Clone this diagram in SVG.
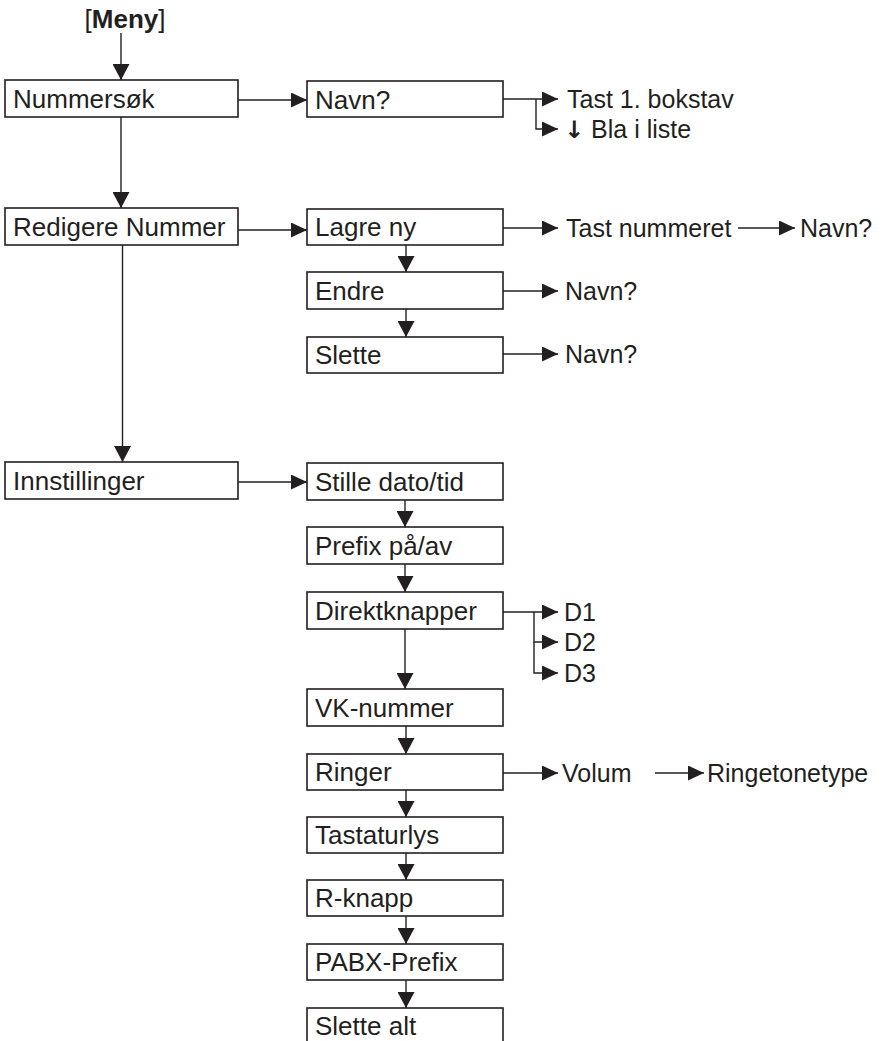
<svg xmlns="http://www.w3.org/2000/svg" width="882" height="1041" viewBox="0 0 882 1041">
<style>
.box{fill:#fff;stroke:#231f20;stroke-width:1.6}
.t{font-family:"Liberation Sans",Arial,sans-serif;font-size:26px;fill:#231f20}
.o{font-family:"Liberation Sans",Arial,sans-serif;font-size:25px;fill:#231f20}
.ar{font-family:"DejaVu Sans",sans-serif;font-weight:bold;font-size:24px}
.c{fill:none;stroke:#231f20;stroke-width:1.4}
.h{marker-end:url(#ah)}
.v{marker-end:url(#av)}
</style>
<defs>
<marker id="ah" markerUnits="userSpaceOnUse" markerWidth="16" markerHeight="15" refX="16" refY="7.5" orient="auto"><path d="M0,0 L16,7.5 L0,15 z" fill="#231f20"/></marker>
<marker id="av" markerUnits="userSpaceOnUse" markerWidth="16" markerHeight="17" refX="16" refY="8.5" orient="auto"><path d="M0,0 L16,8.5 L0,17 z" fill="#231f20"/></marker>
</defs>
<rect width="882" height="1041" fill="#fff"/>
<g id="connectors">
<path class="c v" d="M121,33 V80"/>
<path class="c v" d="M121,117 V208"/>
<path class="c v" d="M122.5,245 V462"/>
<path class="c h" d="M238,100 H307"/>
<path class="c h" d="M503,99 H558"/>
<path class="c h" d="M536,99 V129 H558"/>
<path class="c h" d="M238,230 H307"/>
<path class="c h" d="M503,228 H558"/>
<path class="c h" d="M738,228 H795"/>
<path class="c v" d="M406,245 V272"/>
<path class="c v" d="M406,309 V337"/>
<path class="c h" d="M503,291 H558"/>
<path class="c h" d="M503,354 H558"/>
<path class="c h" d="M238,482 H307"/>
<path class="c v" d="M405,500 V527"/>
<path class="c v" d="M405,564 V592"/>
<path class="c v" d="M405,629 V689"/>
<path class="c h" d="M503,612 H558"/>
<path class="c h" d="M534,612 V642 H558"/>
<path class="c h" d="M534,642 V673 H558"/>
<path class="c v" d="M406,726 V754"/>
<path class="c h" d="M503,773 H558"/>
<path class="c h" d="M655,773 H704"/>
<path class="c v" d="M406,790 V817"/>
<path class="c v" d="M406,853 V880"/>
<path class="c v" d="M406,916 V944"/>
<path class="c v" d="M406,980 V1008"/>
</g>
<g id="meny"><text class="t" x="125" y="28" text-anchor="middle">[<tspan font-weight="bold">Meny</tspan>]</text></g>
<g id="nummersok"><rect class="box" x="5" y="80" width="233" height="37"/><text class="t" x="13" y="108">Nummersøk</text></g>
<g id="redigere"><rect class="box" x="5" y="208" width="233" height="37"/><text class="t" x="13" y="236">Redigere Nummer</text></g>
<g id="innstillinger"><rect class="box" x="5" y="462" width="233" height="37"/><text class="t" x="13" y="490">Innstillinger</text></g>
<g id="navn1"><rect class="box" x="307" y="81" width="196" height="36"/><text class="t" x="315" y="109">Navn?</text></g>
<g id="tast1"><text class="o" x="567" y="108">Tast 1. bokstav</text></g>
<g id="bla"><text class="o" x="564" y="138"><tspan class="ar">↓</tspan> Bla i liste</text></g>
<g id="lagre"><rect class="box" x="307" y="209" width="196" height="36"/><text class="t" x="315" y="236">Lagre ny</text></g>
<g id="tastnr"><text class="o" x="566" y="237">Tast nummeret</text></g>
<g id="navn2"><text class="o" x="800" y="237">Navn?</text></g>
<g id="endre"><rect class="box" x="307" y="272" width="196" height="37"/><text class="t" x="315" y="300">Endre</text></g>
<g id="navn3"><text class="o" x="565" y="300">Navn?</text></g>
<g id="slette"><rect class="box" x="307" y="337" width="196" height="36"/><text class="t" x="315" y="364">Slette</text></g>
<g id="navn4"><text class="o" x="565" y="363">Navn?</text></g>
<g id="stille"><rect class="box" x="307" y="463" width="196" height="37"/><text class="t" x="315" y="491">Stille dato/tid</text></g>
<g id="prefix"><rect class="box" x="307" y="527" width="196" height="37"/><text class="t" x="315" y="555">Prefix på/av</text></g>
<g id="direkt"><rect class="box" x="307" y="592" width="196" height="37"/><text class="t" x="315" y="620">Direktknapper</text></g>
<g id="d1"><text class="o" x="564" y="621">D1</text></g>
<g id="d2"><text class="o" x="564" y="651">D2</text></g>
<g id="d3"><text class="o" x="564" y="682">D3</text></g>
<g id="vk"><rect class="box" x="307" y="689" width="196" height="37"/><text class="t" x="315" y="717">VK-nummer</text></g>
<g id="ringer"><rect class="box" x="307" y="754" width="196" height="36"/><text class="t" x="315" y="781">Ringer</text></g>
<g id="volum"><text class="o" x="562" y="782">Volum</text></g>
<g id="ringetone"><text class="o" x="707" y="782">Ringetonetype</text></g>
<g id="tastatur"><rect class="box" x="307" y="817" width="196" height="36"/><text class="t" x="315" y="844">Tastaturlys</text></g>
<g id="rknapp"><rect class="box" x="307" y="880" width="196" height="36"/><text class="t" x="315" y="907">R-knapp</text></g>
<g id="pabx"><rect class="box" x="307" y="944" width="196" height="36"/><text class="t" x="315" y="971">PABX-Prefix</text></g>
<g id="slettealt"><rect class="box" x="307" y="1008" width="196" height="45"/><text class="t" x="315" y="1035">Slette alt</text></g>
</svg>
